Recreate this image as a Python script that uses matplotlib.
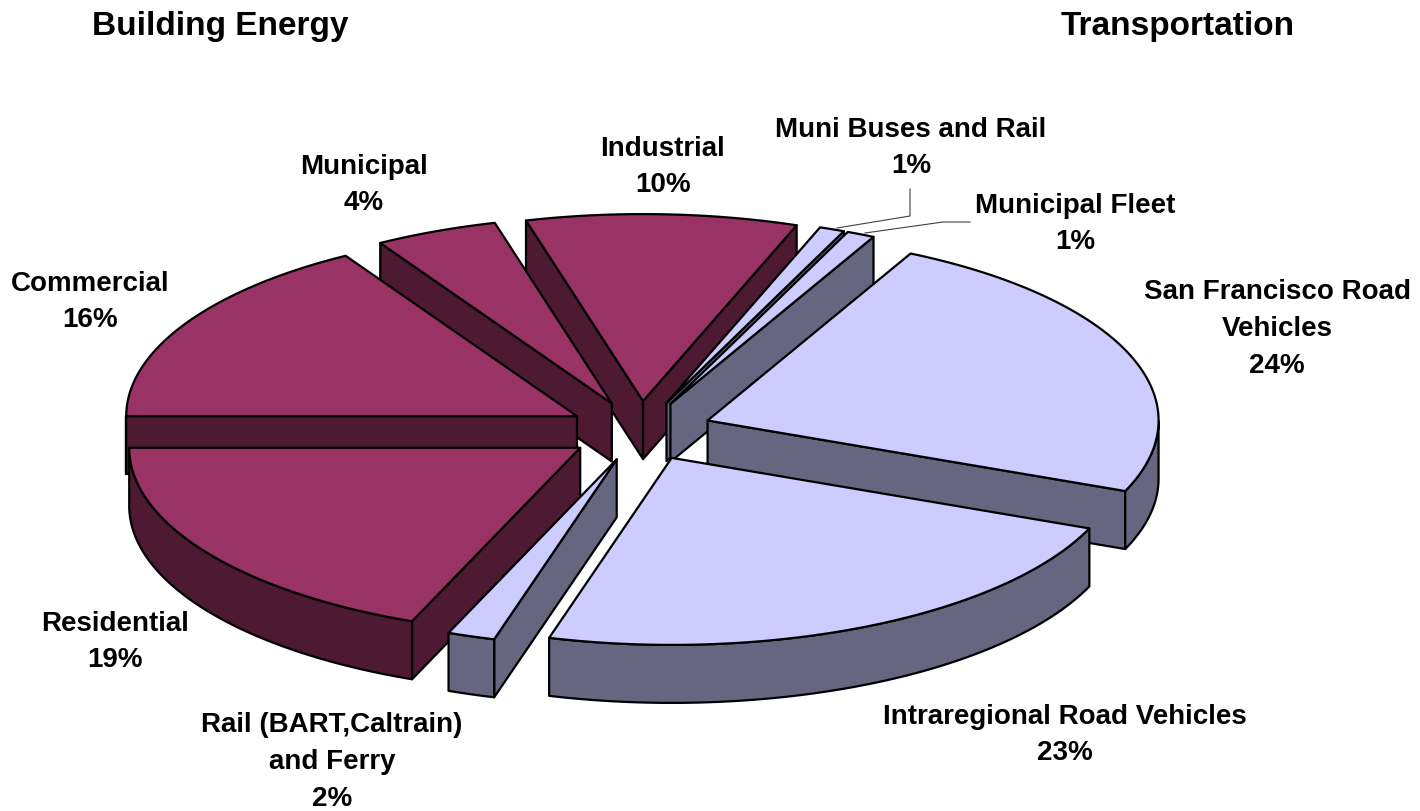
import numpy as np
import matplotlib
matplotlib.use("Agg")
import matplotlib.pyplot as plt
from matplotlib.patches import Polygon

categories = ["Commercial", "Municipal", "Industrial", "Muni Buses and Rail", "Municipal Fleet",
              "San Francisco Road\nVehicles", "Intraregional Road Vehicles",
              "Rail (BART,Caltrain)\nand Ferry", "Residential"]
values = [16.4, 4.4, 9.7, 0.9, 1.0, 23.7, 23.2, 1.7, 18.9]
groups = ["b", "b", "b", "t", "t", "t", "t", "t", "b"]
titles = ["Building Energy", "Transportation"]

# style / layout
TOP = {"b": "#993366", "t": "#CCCCFF"}
WALL = {"b": "#4D1933", "t": "#666680"}
CX, CY, RX, RY, DEPTH, EXPLODE, START = 640, 431, 451, 187, 58, 0.16, 270.0
LW = 1.6
FS = 20
LABEL_POS = [(90, 302), (364, 185), (663, 167), (911, 148), (1075, 224),
             (1277, 329), (1065, 735), (332, 762), (115, 642)]
DRAW_ORDER = [2, 1, 3, 4, 5, 0, 8, 7, 6]

fig = plt.figure(figsize=(14.2, 8.11), dpi=100)
ax = fig.add_axes([0, 0, 1, 1])
ax.set_xlim(0, 1420)
ax.set_ylim(811, 0)
ax.axis("off")
plt.rcParams["font.family"] = ["Liberation Sans", "DejaVu Sans"]


def pt(theta, r=1.0):
    t = np.radians(theta)
    return np.array([r * RX * np.sin(t), -r * RY * np.cos(t)])


def poly(points, color, z):
    ax.add_patch(Polygon(points, closed=True, facecolor=color, edgecolor="black",
                         linewidth=LW, joinstyle="round", zorder=z))


def cut_visible(theta, other):
    e = pt(theta)
    i = pt(other)
    normal = np.array([-e[1], e[0]])
    if normal @ i > 0:
        normal = -normal
    return normal[1] > 0  # outward normal points down the screen


shares = np.array(values) / np.sum(values) * 360.0
edges = START + np.concatenate([[0], np.cumsum(shares)])
down = np.array([0, DEPTH])

for rank, idx in enumerate(DRAW_ORDER):
    a0, a1 = edges[idx], edges[idx + 1]
    col_top, col_wall = TOP[groups[idx]], WALL[groups[idx]]
    apex = np.array([CX, CY]) + pt((a0 + a1) / 2, EXPLODE)
    z = 2 + rank
    for a, b in ((a0, a1), (a1, a0)):
        if cut_visible(a, b):
            rim = apex + pt(a)
            poly([apex, rim, rim + down, apex + down], col_wall, z)
    # outer wall: only the part of the rim that faces the viewer
    th = np.linspace(a0, a1, 300)
    front = np.cos(np.radians(th)) < 0
    if front.any():
        up = np.array([apex + pt(t) for t in th[front]])
        poly(np.vstack([up, up[::-1] + down]), col_wall, z)
    arc = np.array([apex + pt(t) for t in np.linspace(a0, a1, 200)])
    poly(np.vstack([[apex], arc]), col_top, z)

for idx, (x, y) in enumerate(LABEL_POS):
    ax.text(x, y, f"{categories[idx]}\n{values[idx]:.0f}%", ha="center", va="center",
            fontsize=FS, fontweight="bold", color="black", linespacing=1.54, zorder=30)

ax.text(92, 26, titles[0], ha="left", va="center", fontsize=24, fontweight="bold", zorder=30)
ax.text(1061, 26, titles[1], ha="left", va="center", fontsize=24, fontweight="bold", zorder=30)

# leader lines
ax.plot([910, 910, 837], [189, 216, 228], color="#404040", lw=0.8, zorder=30)
ax.plot([970, 943, 865], [222, 222, 233], color="#404040", lw=0.8, zorder=30)

fig.savefig("out.png", dpi=100)
